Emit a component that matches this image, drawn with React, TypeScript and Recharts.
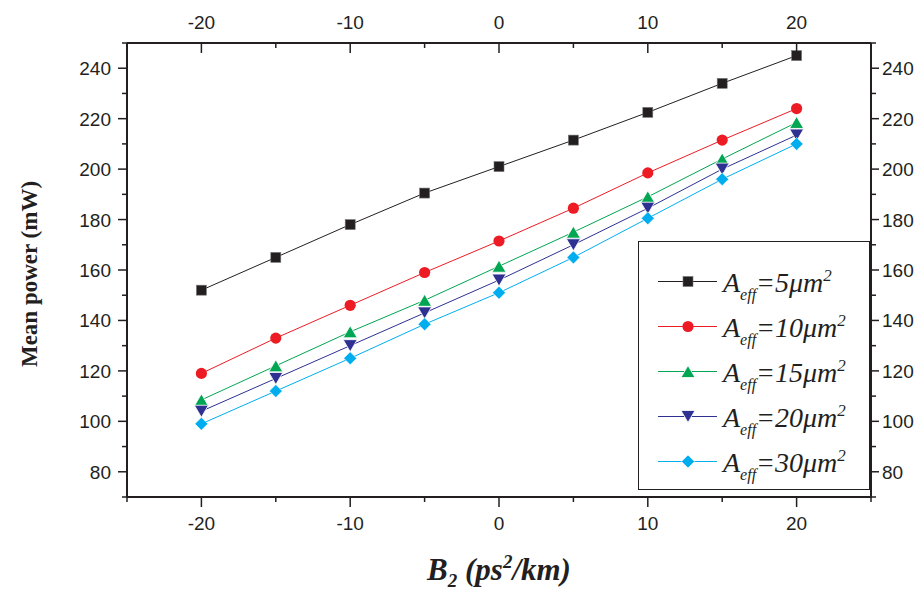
import React from "react";
import { LineChart, Line, XAxis, YAxis, Legend } from "recharts";

// B2 values (ps^2/km) and mean power (mW) for each effective area
const b2 = [-20, -15, -10, -5, 0, 5, 10, 15, 20];
const aeff5 = [152, 165, 178, 190.5, 201, 211.5, 222.5, 234, 245];
const aeff10 = [119, 133, 146, 159, 171.5, 184.5, 198.5, 211.5, 224];
const aeff15 = [108.5, 122, 135.5, 148, 161.5, 175, 189, 204, 218.5];
const aeff20 = [104, 117, 130, 143, 156, 170, 184.5, 200, 213.5];
const aeff30 = [99, 112, 125, 138.5, 151, 165, 180.5, 196, 210];

const xTicks = [-25, -20, -15, -10, -5, 0, 5, 10, 15, 20, 25];
const xLabels = [-20, -10, 0, 10, 20];
const yTicks = [70, 80, 90, 100, 110, 120, 130, 140, 150, 160, 170, 180, 190, 200, 210, 220, 230, 240, 250];
const yLabels = [80, 100, 120, 140, 160, 180, 200, 220, 240];

const series = [
  { key: "a5", area: "5", values: aeff5, color: "#231f20", shape: "square" },
  { key: "a10", area: "10", values: aeff10, color: "#ed1c24", shape: "circle" },
  { key: "a15", area: "15", values: aeff15, color: "#00a651", shape: "up" },
  { key: "a20", area: "20", values: aeff20, color: "#2e3192", shape: "down" },
  { key: "a30", area: "30", values: aeff30, color: "#00aeef", shape: "diamond" },
];

const rows = b2.map((x, i) => {
  const row: Record<string, number> = { x };
  series.forEach((s) => (row[s.key] = s.values[i]));
  return row;
});

const INK = "#231f20";
const SANS = "'Liberation Sans', Arial, sans-serif";
const SERIF = "'Liberation Serif', 'Times New Roman', serif";
const TICK_FONT = 19;

function Marker({ shape, cx, cy, color }: { shape: string; cx: number; cy: number; color: string }) {
  if (cx == null || cy == null) return null;
  switch (shape) {
    case "square":
      return <rect x={cx - 5} y={cy - 5} width={10} height={10} fill={color} stroke="#777" strokeWidth={0.6} />;
    case "circle":
      return <circle cx={cx} cy={cy} r={5.6} fill={color} />;
    case "up":
      return <polygon points={`${cx},${cy - 6} ${cx + 7},${cy + 6} ${cx - 7},${cy + 6}`} fill={color} stroke="#fff" strokeWidth={0.8} />;
    case "down":
      return <polygon points={`${cx - 7},${cy - 6} ${cx + 7},${cy - 6} ${cx},${cy + 6}`} fill={color} stroke="#fff" strokeWidth={0.8} />;
    default:
      return <polygon points={`${cx},${cy - 6.5} ${cx + 6.5},${cy} ${cx},${cy + 6.5} ${cx - 6.5},${cy}`} fill={color} stroke="#fff" strokeWidth={0.6} />;
  }
}

function BottomTick(props: any) {
  const { x, y, payload } = props;
  const major = xLabels.includes(payload.value);
  return (
    <g>
      <line x1={x} y1={y} x2={x} y2={y + (major ? 10 : 5)} stroke={INK} strokeWidth={1.5} />
      {major && (
        <text x={x} y={y + 33} textAnchor="middle" fontSize={TICK_FONT} fontFamily={SANS} fill={INK}>
          {payload.value}
        </text>
      )}
    </g>
  );
}

function TopTick(props: any) {
  const { x, y, payload } = props;
  const major = xLabels.includes(payload.value);
  return (
    <g>
      <line x1={x} y1={y} x2={x} y2={y + (major ? 10 : 5)} stroke={INK} strokeWidth={1.5} />
      {major && (
        <text x={x} y={y - 14} textAnchor="middle" fontSize={TICK_FONT} fontFamily={SANS} fill={INK}>
          {payload.value}
        </text>
      )}
    </g>
  );
}

function LeftTick(props: any) {
  const { x, y, payload } = props;
  const major = yLabels.includes(payload.value);
  return (
    <g>
      <line x1={x - (major ? 9 : 5)} y1={y} x2={x} y2={y} stroke={INK} strokeWidth={1.5} />
      {major && (
        <text x={x - 16} y={y + 7} textAnchor="end" fontSize={TICK_FONT} fontFamily={SANS} fill={INK}>
          {payload.value}
        </text>
      )}
    </g>
  );
}

function RightTick(props: any) {
  const { x, y, payload } = props;
  const major = yLabels.includes(payload.value);
  return (
    <g>
      <line x1={x} y1={y} x2={x + (major ? 8 : 5)} y2={y} stroke={INK} strokeWidth={1.5} />
      {major && (
        <text x={x + 11} y={y + 7} textAnchor="start" fontSize={TICK_FONT} fontFamily={SANS} fill={INK}>
          {payload.value}
        </text>
      )}
    </g>
  );
}

function LegendBox() {
  return (
    <svg width={232} height={249} style={{ display: "block" }}>
      <rect x={0.5} y={0.5} width={231} height={248} fill="#fff" stroke={INK} strokeWidth={1} />
      {series.map((s, i) => {
        const cy = 40.5 + i * 45;
        return (
          <g key={s.key}>
            <line x1={20} y1={cy} x2={79} y2={cy} stroke={s.color} strokeWidth={1} />
            <Marker shape={s.shape} cx={50} cy={cy} color={s.color} />
            <text x={85} y={cy + 10} fontFamily={SERIF} fontStyle="italic" fontSize={28} fill={INK}>
              A
              <tspan fontSize={16} dy={8}>eff</tspan>
              <tspan dy={-8}>{`=${s.area}\u03bcm`}</tspan>
              <tspan fontSize={17} dy={-11}>2</tspan>
            </text>
          </g>
        );
      })}
    </svg>
  );
}

const axisLine = { stroke: INK, strokeWidth: 2 };

export default function App() {
  return (
    <div style={{ position: "absolute", left: 0, top: 0, width: 921, height: 591, background: "#fff" }}>
      <LineChart width={921} height={591} data={rows} margin={{ top: 0, right: 0, bottom: 0, left: 0 }}>
        <XAxis
          xAxisId="b"
          dataKey="x"
          type="number"
          domain={[-25, 25]}
          ticks={xTicks}
          interval={0}
          allowDataOverflow
          height={94}
          tickSize={0}
          tickMargin={0}
          tickLine={false}
          axisLine={axisLine}
          tick={<BottomTick />}
          label={() => (
            <text x={499} y={580} textAnchor="middle" fontFamily={SERIF} fontWeight="bold" fontStyle="italic" fontSize={31} fill={INK}>
              B
              <tspan fontSize={19} dy={7}>2</tspan>
              <tspan dy={-7}> (ps</tspan>
              <tspan fontSize={19} dy={-12}>2</tspan>
              <tspan dy={12}>/km)</tspan>
            </text>
          )}
        />
        <XAxis
          xAxisId="t"
          dataKey="x"
          type="number"
          orientation="top"
          domain={[-25, 25]}
          ticks={xTicks}
          interval={0}
          allowDataOverflow
          height={43}
          tickSize={0}
          tickMargin={0}
          tickLine={false}
          axisLine={axisLine}
          tick={<TopTick />}
        />
        <YAxis
          yAxisId="l"
          type="number"
          domain={[70, 250]}
          ticks={yTicks}
          interval={0}
          allowDataOverflow
          width={127}
          tickSize={0}
          tickMargin={0}
          tickLine={false}
          axisLine={axisLine}
          tick={<LeftTick />}
          label={() => (
            <text
              x={37}
              y={274}
              transform="rotate(-90, 37, 274)"
              textAnchor="middle"
              fontFamily={SERIF}
              fontWeight="bold"
              fontSize={23}
              fill={INK}
            >
              Mean power (mW)
            </text>
          )}
        />
        <YAxis
          yAxisId="r"
          orientation="right"
          type="number"
          domain={[70, 250]}
          ticks={yTicks}
          interval={0}
          allowDataOverflow
          width={50}
          tickSize={0}
          tickMargin={0}
          tickLine={false}
          axisLine={axisLine}
          tick={<RightTick />}
        />
        <Legend
          layout="vertical"
          align="center"
          verticalAlign="middle"
          wrapperStyle={{ left: 638, top: 241, width: 232, height: 249 }}
          content={() => <LegendBox />}
        />
        {series.map((s) => (
          <Line
            key={s.key}
            xAxisId="b"
            yAxisId="l"
            dataKey={s.key}
            stroke={s.color}
            strokeWidth={1}
            isAnimationActive={false}
            activeDot={false}
            dot={(p: any) => <Marker key={`${s.key}-${p.index}`} shape={s.shape} cx={p.cx} cy={p.cy} color={s.color} />}
          />
        ))}
      </LineChart>
    </div>
  );
}
